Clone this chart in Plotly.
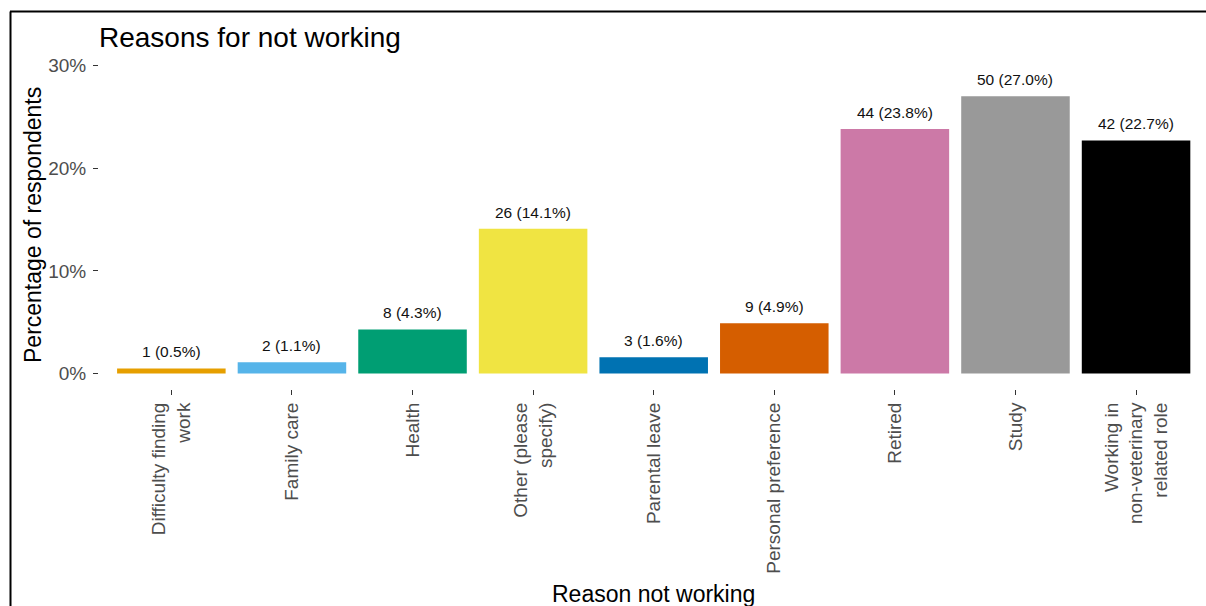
import plotly.graph_objects as go

# Survey responses: reason for not working
reasons = [
    "Difficulty finding<br>work",
    "Family care",
    "Health",
    "Other (please<br>specify)",
    "Parental leave",
    "Personal preference",
    "Retired",
    "Study",
    "Working in<br>non-veterinary<br>related role",
]
counts = [1, 2, 8, 26, 3, 9, 44, 50, 42]
percents = [0.5, 1.1, 4.3, 14.1, 1.6, 4.9, 23.8, 27.0, 22.7]
colors = ["#E69F00", "#56B4E9", "#009E73", "#F0E442", "#0072B2",
          "#D55E00", "#CC79A7", "#999999", "#000000"]
y_ticks = [0, 10, 20, 30]

W, H = 1206, 606
ML, MR, MT, MB = 99, 0, 50, 217
PW, PH = W - ML - MR, H - MT - MB
FONT = "Liberation Sans, Arial, sans-serif"


def px_to_paper_x(px):
    return (px - ML) / PW


def px_to_paper_y(py):
    return (H - MB - py) / PH


fig = go.Figure(
    go.Bar(
        x=reasons,
        y=percents,
        marker=dict(color=colors, line=dict(width=0)),
        width=0.9,
        hoverinfo="skip",
    )
)

# Count and percentage labels above each bar
for r, n, p in zip(reasons, counts, percents):
    fig.add_annotation(
        x=r, y=p, xref="x", yref="y",
        text=f"{n} ({p:.1f}%)",
        showarrow=False, yanchor="bottom", yshift=6,
        font=dict(family=FONT, size=15.5, color="#111111"),
    )

# Axis titles
fig.add_annotation(
    x=px_to_paper_x(653), y=px_to_paper_y(594), xref="paper", yref="paper",
    text="Reason not working", showarrow=False,
    xanchor="center", yanchor="middle",
    font=dict(family=FONT, size=23, color="#000000"),
)
fig.add_annotation(
    x=px_to_paper_x(33), y=px_to_paper_y(225), xref="paper", yref="paper",
    text="Percentage of respondents", showarrow=False, textangle=-90,
    xanchor="center", yanchor="middle",
    font=dict(family=FONT, size=23, color="#000000"),
)

# Frame along the top and left edges
fig.add_shape(type="line", xref="paper", yref="paper",
              x0=px_to_paper_x(10), x1=px_to_paper_x(W + 5),
              y0=px_to_paper_y(11.5), y1=px_to_paper_y(11.5),
              line=dict(color="#000000", width=2))
fig.add_shape(type="line", xref="paper", yref="paper",
              x0=px_to_paper_x(10.5), x1=px_to_paper_x(10.5),
              y0=px_to_paper_y(11.5), y1=px_to_paper_y(H + 5),
              line=dict(color="#000000", width=2))

fig.update_layout(
    width=W, height=H,
    margin=dict(l=ML, r=MR, t=MT, b=MB, pad=0),
    paper_bgcolor="white", plot_bgcolor="white",
    showlegend=False,
    title=dict(
        text="Reasons for not working",
        x=px_to_paper_x(99), xref="paper", xanchor="left",
        y=1 - 37 / H, yref="container", yanchor="middle",
        font=dict(family=FONT, size=28, color="#000000"),
    ),
    bargap=0.1,
)

fig.update_xaxes(
    range=[-0.6, 8.58],
    showgrid=False, showline=False, zeroline=False,
    ticks="outside", ticklen=5, tickwidth=1, tickcolor="#333333",
    tickangle=-90,
    tickfont=dict(family=FONT, size=19, color="#4D4D4D"),
)
fig.update_yaxes(
    range=[-1.5, 31.5],
    tickmode="array", tickvals=y_ticks,
    ticktext=[f"{v}%" for v in y_ticks],
    showgrid=False, showline=False, zeroline=False,
    ticks="outside", ticklen=5, tickwidth=1, tickcolor="#333333",
    ticklabelstandoff=3,
    tickfont=dict(family=FONT, size=19, color="#4D4D4D"),
)

fig.write_html("out.html")
